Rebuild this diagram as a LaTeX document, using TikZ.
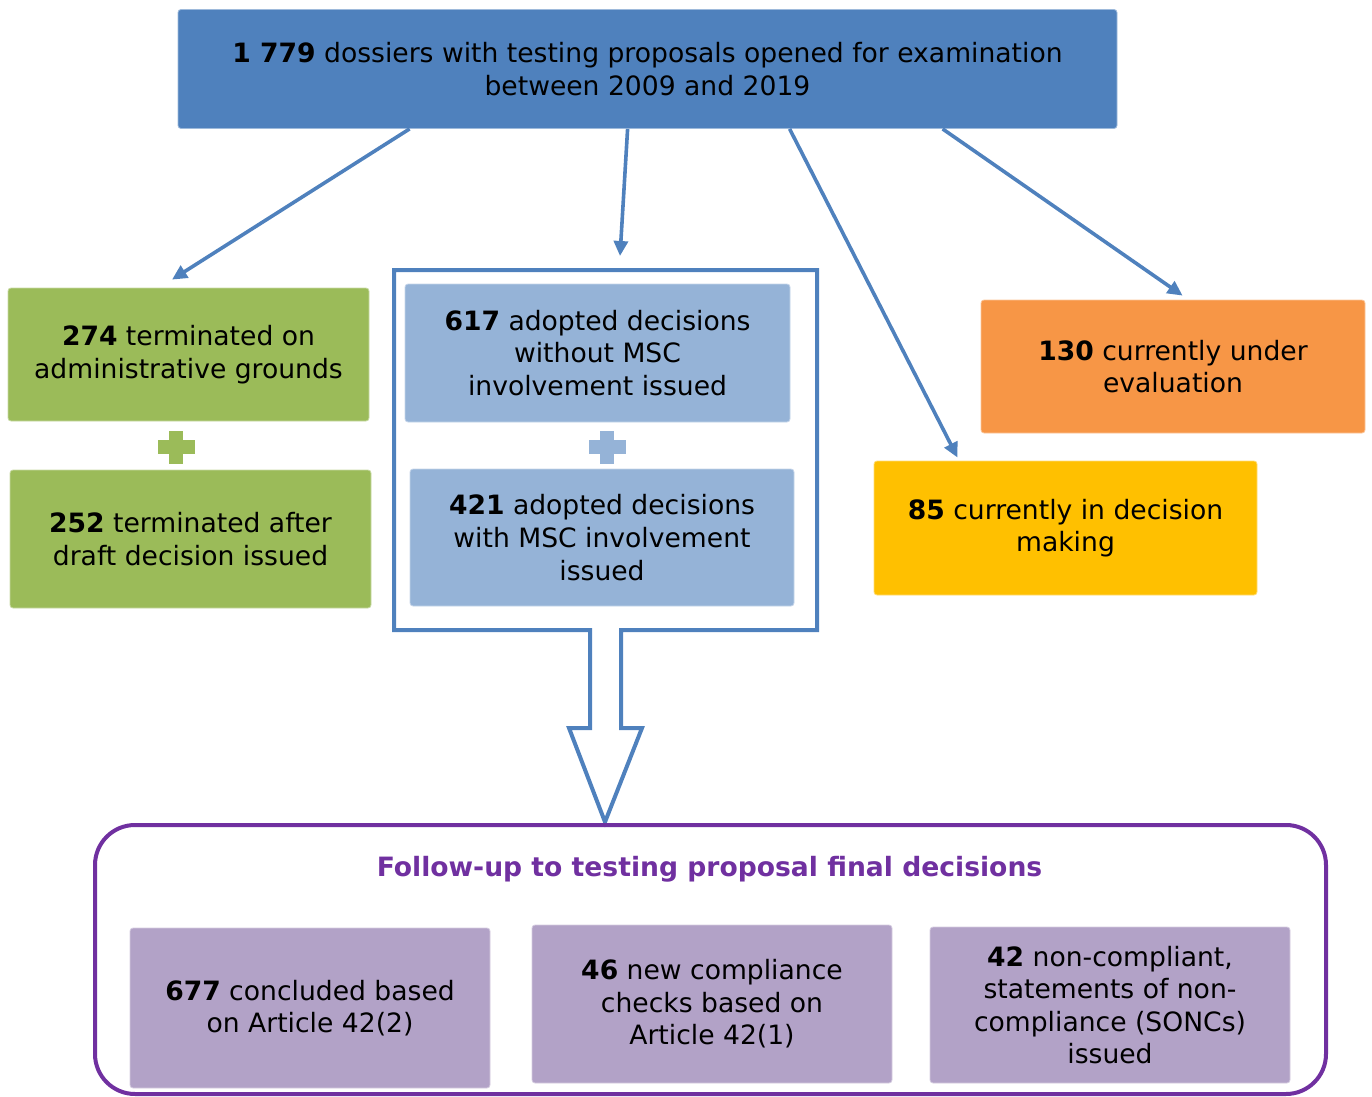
\documentclass[tikz,border=0pt]{standalone}
\usepackage{fontspec}
\setmainfont{DejaVu Sans}
\usetikzlibrary{arrows.meta}
\definecolor{topblue}{HTML}{4F81BD}
\definecolor{leafgreen}{HTML}{9BBB59}
\definecolor{paleblue}{HTML}{95B3D7}
\definecolor{evalorange}{HTML}{F79646}
\definecolor{makeyellow}{HTML}{FFC000}
\definecolor{palepurple}{HTML}{B2A2C7}
\definecolor{followpurple}{HTML}{7030A0}
\begin{document}
\begin{tikzpicture}[x=0.5pt,y=-0.5pt,
  box/.style={draw=#1!55!white, fill=#1, line width=0.4pt, rounded corners=1.5pt,
    align=center, inner sep=0pt, font=\fontsize{13.3}{16.3}\selectfont},
  link/.style={draw=topblue, line width=1.8pt, -{Triangle[length=7.5pt,width=7pt]}},
  plus/.pic={\fill[#1] (-18.5,-7) rectangle (18.5,7); \fill[#1] (-7,-16.5) rectangle (7,16.5);}]
\useasboundingbox (0,0) rectangle (1372,1097);
% top row
\node[box=topblue, minimum width=469.5pt, minimum height=59.5pt] (top) at (647.5,69)
  {\textbf{1 779} dossiers with testing proposals opened for examination\\between 2009 and 2019};
% terminated
\node[box=leafgreen, minimum width=180.5pt, minimum height=66.5pt] (adm) at (188.5,354.5)
  {\textbf{274} terminated on\\administrative grounds};
\pic at (176,447) {plus=leafgreen};
\node[box=leafgreen, minimum width=180.5pt, minimum height=69pt] (draft) at (190.5,539)
  {\textbf{252} terminated after\\draft decision issued};
% adopted decisions
\draw[topblue, line width=2pt] (621,630) -- (817,630) -- (817,270) -- (394,270) -- (394,630)
  -- (590,630) -- (590,728) -- (569,728) -- (605,822) -- (642,728) -- (621,728) -- cycle;
\node[box=paleblue, minimum width=192.5pt, minimum height=69pt] (without) at (597.5,353)
  {\textbf{617} adopted decisions\\without MSC\\involvement issued};
\pic at (607,447) {plus=paleblue};
\node[box=paleblue, minimum width=192pt, minimum height=68.5pt] (with) at (602,537.5)
  {\textbf{421} adopted decisions\\with MSC involvement\\issued};
% ongoing
\node[box=evalorange, minimum width=192pt, minimum height=66.5pt] (eval) at (1173,366.5)
  {\textbf{130} currently under\\evaluation};
\node[box=makeyellow, minimum width=191.5pt, minimum height=67pt] (making) at (1065.5,528)
  {\textbf{85} currently in decision\\making};
\coordinate (frametop) at (620,256);
\draw[link] ([xshift=116pt]top.south west) -- ([xshift=-8.25pt,yshift=4pt]adm.north);
\draw[link] ([xshift=225pt]top.south west) -- (frametop);
\draw[link] ([xshift=306pt]top.south west) -- ([xshift=42pt,yshift=1.5pt]making.north west);
\draw[link] ([xshift=382.5pt]top.south west) -- ([xshift=101pt,yshift=2pt]eval.north west);
% follow-up
\node[draw=followpurple, line width=2pt, rounded corners=20pt, minimum width=615.5pt,
  minimum height=134.5pt] (follow) at (710.5,959.5) {};
\node[text=followpurple, font=\fontsize{13.3}{16.3}\selectfont\bfseries] (followtitle) at (709.5,869)
  {Follow-up to testing proposal final decisions};
\node[box=palepurple, minimum width=180pt, minimum height=80pt] (art2) at (310,1008)
  {\textbf{677} concluded based\\on Article 42(2)};
\node[box=palepurple, minimum width=180pt, minimum height=79pt] (art1) at (712,1004)
  {\textbf{46} new compliance\\checks based on\\Article 42(1)};
\node[box=palepurple, minimum width=180pt, minimum height=78pt] (sonc) at (1110,1005)
  {\textbf{42} non-compliant,\\statements of non-\\compliance (SONCs)\\issued};
\end{tikzpicture}
\end{document}
